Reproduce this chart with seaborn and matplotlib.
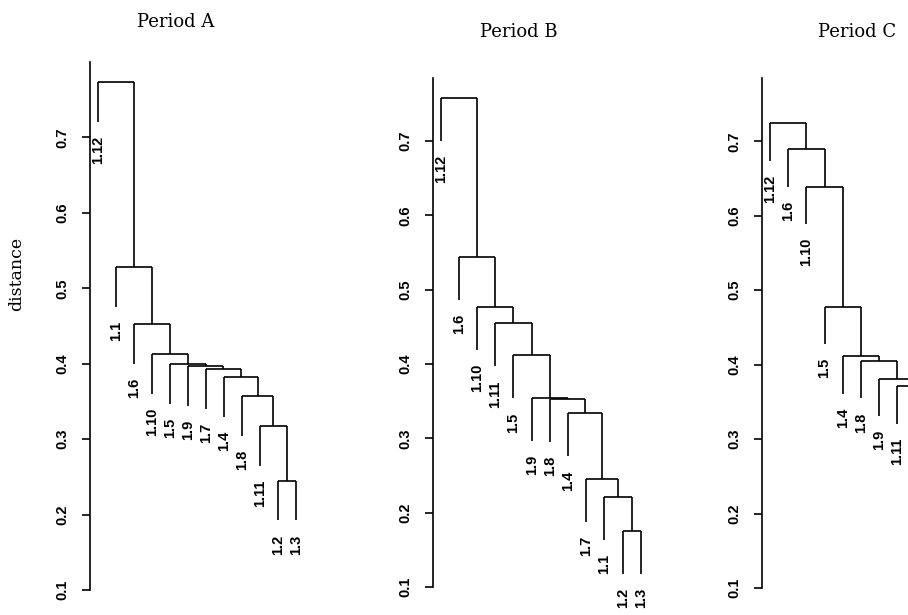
import matplotlib
matplotlib.use("Agg")
import matplotlib.pyplot as plt
import seaborn as sns

# leaf order (left to right) and merge heights down the chain for each period
leaves_a = ["1.12", "1.1", "1.6", "1.10", "1.5", "1.9", "1.7", "1.4", "1.8", "1.11", "1.2", "1.3"]
heights_a = [0.773, 0.528, 0.452, 0.413, 0.399, 0.397, 0.393, 0.382, 0.357, 0.317, 0.245]

leaves_b = ["1.12", "1.6", "1.10", "1.11", "1.5", "1.9", "1.8", "1.4", "1.7", "1.1", "1.2", "1.3"]
heights_b = [0.758, 0.544, 0.477, 0.455, 0.412, 0.355, 0.353, 0.334, 0.246, 0.221, 0.176]

leaves_c = ["1.12", "1.6", "1.10", "1.5", "1.4", "1.8", "1.9", "1.11", "1.7", "1.1", "1.2", "1.3"]
heights_c = [0.724, 0.689, 0.639, 0.478, 0.411, 0.405, 0.381, 0.371, 0.330, 0.280, 0.220]

titles = ["Period A", "Period B", "Period C"]
yticks = [0.1, 0.2, 0.3, 0.4, 0.5, 0.6, 0.7]

sns.set_style("ticks")
plt.rcParams["font.family"] = ["Liberation Sans", "DejaVu Sans"]
plt.rcParams["text.color"] = "black"
plt.rcParams["ytick.color"] = "black"
plt.rcParams["axes.edgecolor"] = "black"

W, H = 908, 615
fig = plt.figure(figsize=(W / 100, H / 100), dpi=100)


def px_axes(left, top, bottom, right):
    return fig.add_axes([left / W, 1 - bottom / H, (right - left) / W, (bottom - top) / H])


def leaf_label(ax, text, x, y):
    # skip labels that would sit beyond the right edge of the figure (cut off in the original too)
    fx = ax.transData.transform((x, y))[0]
    if fx > W - 6:
        return
    ax.annotate(text, (x, y), xytext=(0, -10), textcoords="offset points",
                rotation=90, ha="center", va="top", fontsize=10.5, fontweight="bold")


def draw_dendro(ax, leaves, heights):
    n = len(leaves)
    hang = 0.1 * (max(heights) - min(heights))
    # node x = midpoint of its two children (leaf k sits at k+1)
    xs = [0.0] * (n - 1)
    xs[n - 2] = (n - 1 + n) / 2
    for k in range(n - 3, -1, -1):
        xs[k] = (k + 1 + xs[k + 1]) / 2
    kw = dict(color="black", lw=1.2, solid_capstyle="butt")
    for k in range(n - 1):
        h = heights[k]
        xl = k + 1
        if k == n - 2:
            xr, hr = n, h - hang
            ax.plot([xr, xr], [h, hr], **kw)
            leaf_label(ax, leaves[n - 1], xr, hr)
        else:
            xr, hr = xs[k + 1], heights[k + 1]
            ax.plot([xr, xr], [h, hr], **kw)
        ax.plot([xl, xr], [h, h], **kw)
        ax.plot([xl, xl], [h, h - hang], **kw)
        leaf_label(ax, leaves[k], xl, h - hang)


def style_axis(ax):
    ax.set_yticks(yticks)
    ax.set_yticklabels([f"{t:.1f}" for t in yticks], rotation=90, va="center",
                       fontsize=10.5, fontweight="bold")
    ax.tick_params(axis="y", direction="out", length=6, width=1.2, pad=9)
    ax.set_xticks([])
    ax.spines["left"].set_linewidth(1.2)
    sns.despine(ax=ax, bottom=True)


panels = [
    (leaves_a, heights_a, 90, 62, 590, 18.0, 0.556, 0.8),
    (leaves_b, heights_b, 433, 78, 587, 18.2, 0.577, 0.785),
    (leaves_c, heights_c, 762, 78, 588, 18.2, 0.56, 0.785),
]
for leaves, heights, left, top, bottom, step, x0, ytop in panels:
    ax = px_axes(left, top, bottom, left + (13 - x0) * step)
    ax.set_xlim(x0, 13)
    ax.set_ylim(0.1, ytop)
    draw_dendro(ax, leaves, heights)
    style_axis(ax)

serif = ["DejaVu Serif"]
fig.text(176 / W, 1 - 22 / H, titles[0], ha="center", va="center", fontsize=13, family=serif)
fig.text(519 / W, 1 - 32 / H, titles[1], ha="center", va="center", fontsize=13, family=serif)
fig.text(857 / W, 1 - 32 / H, titles[2], ha="center", va="center", fontsize=13, family=serif)
fig.text(17 / W, 1 - 274 / H, "distance", rotation=90, ha="center", va="center", fontsize=12.5, family=serif)

fig.savefig("out.png", dpi=100, facecolor="white")
